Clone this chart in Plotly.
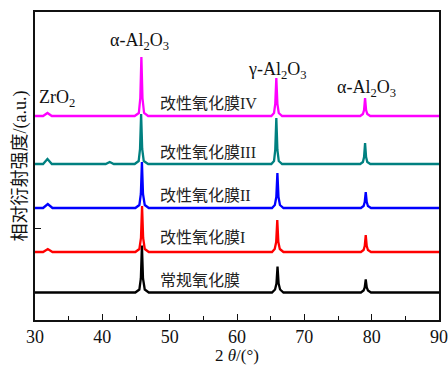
import plotly.graph_objects as go

# 2θ (degrees) and relative intensity (a.u.), per sample
names = ["常规氧化膜", "改性氧化膜I", "改性氧化膜II", "改性氧化膜III", "改性氧化膜IV"]
colors = ["#000000", "#FF0000", "#0000FF", "#008080", "#FF00FF"]
offsets = [27.5, 68, 112, 156, 204]

x_black = [30, 44.9, 45.5, 45.72, 45.88, 46.04, 46.3, 46.9, 65.2, 65.65, 65.86, 66.02, 66.18, 66.4, 66.9,
           78.4, 78.8, 78.97, 79.12, 79.27, 79.45, 79.9, 90]
y_black = [0, 0, 3, 14, 47, 14, 3, 0, 0, 3, 9, 26, 9, 3, 0,
           0, 2, 5, 13, 5, 2, 0, 0]

x_red = [30, 31.2, 31.9, 32.6, 44.9, 45.5, 45.74, 45.9, 46.06, 46.3, 46.9, 65.2, 65.6, 65.82, 65.98, 66.14, 66.36, 66.9,
         78.4, 78.8, 78.97, 79.12, 79.27, 79.45, 79.9, 90]
y_red = [0, 0, 3, 0, 0, 3, 14, 46, 14, 3, 0, 0, 3, 10, 32, 10, 3, 0,
         0, 2, 6, 17, 6, 2, 0, 0]

x_blue = [30, 31.2, 31.9, 32.6, 44.9, 45.5, 45.72, 45.88, 46.04, 46.3, 46.9, 65.2, 65.62, 65.84, 66.0, 66.16, 66.38, 66.9,
          78.4, 78.8, 78.97, 79.12, 79.27, 79.45, 79.9, 90]
y_blue = [0, 0, 4, 0, 0, 3, 14, 46, 14, 3, 0, 0, 3, 11, 35, 11, 3, 0,
          0, 2, 6, 16, 6, 2, 0, 0]

x_teal = [30, 31.2, 31.85, 32.5, 40.5, 41.1, 41.7, 44.8, 45.4, 45.6, 45.76, 45.92, 46.15, 46.8, 65.1, 65.5, 65.68, 65.84, 66.0, 66.2, 66.7,
          78.3, 78.7, 78.87, 79.02, 79.17, 79.35, 79.8, 90]
y_teal = [0, 0, 5, 0, 0, 2, 0, 0, 3, 15, 50, 15, 3, 0, 0, 3, 14, 46, 14, 3, 0,
          0, 2, 7, 21, 7, 2, 0, 0]

x_mag = [30, 31.2, 31.85, 32.5, 44.8, 45.42, 45.64, 45.8, 45.96, 46.2, 46.8, 65.1, 65.5, 65.68, 65.84, 66.0, 66.2, 66.7,
         78.3, 78.7, 78.87, 79.02, 79.17, 79.35, 79.8, 90]
y_mag = [0, 0, 3, 0, 0, 3, 18, 59, 18, 3, 0, 0, 3, 12, 38, 12, 3, 0,
         0, 2, 6, 18, 6, 2, 0, 0]

xs = [x_black, x_red, x_blue, x_teal, x_mag]
ys = [y_black, y_red, y_blue, y_teal, y_mag]

label_x = [48.3, 48.3, 48.3, 48.3, 48.3]
label_y = [40, 83, 125, 168, 217]

phase_labels = ["ZrO<sub>2</sub>", "α-Al<sub>2</sub>O<sub>3</sub>", "γ-Al<sub>2</sub>O<sub>3</sub>", "α-Al<sub>2</sub>O<sub>3</sub>"]
phase_x = [33.3, 45.5, 66.0, 79.2]
phase_y = [222, 279, 250, 232]

x_ticks = [30, 40, 50, 60, 70, 80, 90]

fig = go.Figure()
for n, c, off, xv, yv in zip(names, colors, offsets, xs, ys):
    fig.add_trace(go.Scatter(x=xv, y=[off + v for v in yv], mode="lines",
                             line=dict(color=c, width=2.3), name=n, showlegend=False))

font_lat = "Liberation Serif, Noto Sans CJK SC, serif"

for n, lx, ly in zip(names, label_x, label_y):
    fig.add_annotation(x=lx, y=ly, text=n, showarrow=False, xanchor="left", yanchor="middle",
                       font=dict(family=font_lat, size=16, color="#222222"))

for t, px, py in zip(phase_labels, phase_x, phase_y):
    fig.add_annotation(x=px, y=py, text=t, showarrow=False, xanchor="center", yanchor="middle",
                       font=dict(family=font_lat, size=18, color="#111111"))

# x-axis title
fig.add_annotation(x=0.5, y=-0.115, xref="paper", yref="paper", text="2 <i>θ</i>/(°)",
                   showarrow=False, xanchor="center", yanchor="middle",
                   font=dict(family=font_lat, size=17, color="#111111"))

fig.update_layout(
    width=448, height=365,
    margin=dict(l=35, r=9, t=12, b=45, autoexpand=False),
    paper_bgcolor="white", plot_bgcolor="white",
    font=dict(family=font_lat, color="#111111"),
    xaxis=dict(range=[30, 90], tickvals=x_ticks, ticks="inside", ticklen=6, tickwidth=1,
               tickcolor="#111111", showline=True, linecolor="#111111", linewidth=1.5, mirror=True,
               showgrid=False, zeroline=False, tickfont=dict(family=font_lat, size=18),
               automargin=False,
               minor=dict(dtick=5, ticks="inside", ticklen=4, tickcolor="#111111")),
    yaxis=dict(range=[0, 308], tickvals=[92], ticktext=[""], ticks="inside", ticklen=6,
               tickcolor="#111111", showline=True, linecolor="#111111", linewidth=1.5, mirror=True,
               showgrid=False, zeroline=False, automargin=False,
               title=dict(text="相对衍射强度/(a.u.)", font=dict(family=font_lat, size=18), standoff=0)),
)

fig.write_html("out.html", config={"displayModeBar": False},
               post_script="document.body.style.margin='0';document.body.style.overflow='hidden';")
